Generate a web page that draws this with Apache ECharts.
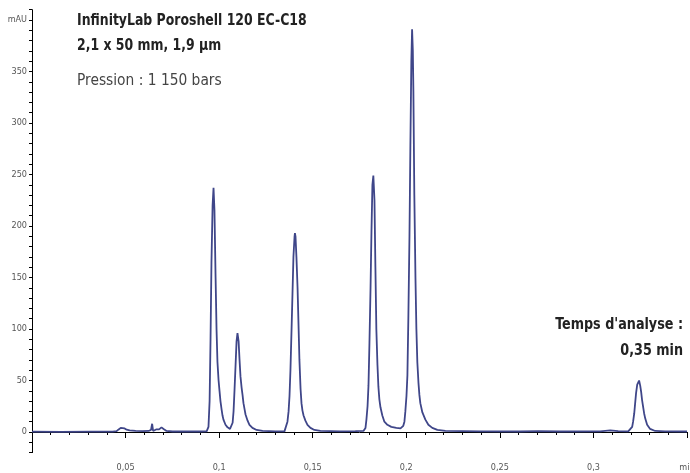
<!DOCTYPE html>
<html><head><meta charset="utf-8">
<script src="https://cdn.jsdelivr.net/npm/echarts@6/dist/echarts.min.js"></script>
<style>html,body{margin:0;padding:0;background:#fff}#c{width:690px;height:473px}</style>
</head><body><div id="c"></div>
<script>
// Retention time (min)
var times = [
 0.0000,0.0153,0.0313,0.0431,0.0452,0.0463,0.0474,0.0484,0.0495,0.0506,0.0522,0.0554,0.0591,0.0623,
 0.0636,0.0642,0.0647,0.0655,0.0663,0.0671,0.0679,0.0692,0.0703,0.0719,0.0751,0.0821,0.0901,0.0933,
 0.0938,0.0943,0.0949,0.0954,0.0959,0.0965,0.0970,0.0975,0.0981,0.0986,0.0991,0.0997,0.1002,0.1007,
 0.1013,0.1018,0.1023,0.1034,0.1045,0.1058,
 0.1066,0.1072,0.1077,0.1082,0.1088,0.1093,0.1098,0.1104,0.1109,0.1114,0.1120,0.1125,0.1130,0.1136,
 0.1141,0.1152,0.1162,0.1178,0.1200,0.1232,0.1301,
 0.1349,0.1357,0.1365,0.1371,0.1376,0.1381,0.1387,0.1392,0.1397,0.1403,0.1405,0.1408,0.1413,0.1419,
 0.1424,0.1429,0.1435,0.1440,0.1445,0.1451,0.1461,0.1472,0.1488,0.1509,0.1541,0.1648,0.1728,
 0.1771,0.1776,0.1782,0.1787,0.1793,0.1798,0.1803,0.1809,0.1814,0.1819,0.1824,0.1830,0.1835,0.1840,
 0.1846,0.1851,0.1856,0.1862,0.1872,0.1883,0.1899,0.1920,0.1947,0.1969,
 0.1979,0.1984,0.1990,0.1995,0.2001,0.2006,0.2011,0.2017,0.2022,0.2027,0.2031,0.2035,0.2038,0.2043,
 0.2049,0.2054,0.2059,0.2065,0.2070,0.2075,0.2086,0.2102,0.2118,0.2139,0.2166,0.2209,
 0.2396,0.2609,0.2705,0.2823,0.3036,0.3090,0.3132,
 0.3186,0.3196,0.3207,0.3212,0.3218,0.3223,0.3228,0.3234,0.3239,0.3244,0.3250,0.3255,0.3260,0.3266,
 0.3271,0.3277,0.3287,0.3303,0.3330,0.3383,0.3500
];
// Absorbance (mAU) at each retention time
var absorbance = [
 0.3,0.2,0.3,0.3,0.8,2.5,4,4.5,3.5,2.2,1.5,1,0.8,1,
 2,8,1,0.5,2.5,4,2.5,4.5,3,1,0.5,0.5,0.5,0.6,
 1,5,30,90,165,220,237,215,150,100,68,50,40,30,
 22,16,12,7,4.5,3,
 4,9,20,40,66,88,96,88,70,54,43,36,28,22,
 17,11,7,4,2,1,0.6,
 0.6,2,10,20,35,60,100,135,170,190,193,190,170,140,
 105,70,42,28,21,16,11,7,4,2,1,0.7,0.8,
 1,2,4,12,25,45,85,140,195,240,249,225,160,100,
 65,44,32,24,16,10,7,5,4,3.5,
 4,6,10,20,35,55,110,190,280,360,391,370,330,230,
 150,100,68,48,36,28,19,12,7,4,2,1,
 0.6,0.5,0.8,0.5,0.7,1.5,0.8,
 0.6,1.5,5,10,18,28,38,46,48,50,45,39,31,24,
 18,13,7,3,1,0.6,0.5
];
var yTickLabels = {400:'mAU'};
var xLastLabel = 'min';

var data = times.map(function(t,i){return [t, absorbance[i]];});
var FN = '"Liberation Sans Narrow","DejaVu Sans Condensed",sans-serif';
var chart = echarts.init(document.getElementById('c'), null, {renderer:'canvas'});
chart.setOption({
  animation:false,
  grid:{left:32, right:3, top:9.7, bottom:20.4, containLabel:false, outerBoundsMode:'none'},
  xAxis:{type:'value', min:0, max:0.35, interval:0.05,
    axisLine:{show:true, lineStyle:{color:'#000', width:1}},
    axisTick:{show:true, length:6, lineStyle:{color:'#000'}},
    minorTick:{show:true, splitNumber:5, length:3, lineStyle:{color:'#000'}},
    splitLine:{show:false},
    axisLabel:{margin:11, fontSize:9, fontFamily:FN, color:'#555', showMinLabel:true, showMaxLabel:true,
      formatter:function(v){
        var k=Math.round(v*100);
        if(k===0) return '';
        if(k===35) return xLastLabel;
        return String(Math.round(v*100)/100).replace('.',',');
      }}
  },
  yAxis:{type:'value', min:-20, max:410, interval:10,
    axisLine:{show:true, lineStyle:{color:'#000', width:1}},
    axisTick:{show:true, length:3, lineStyle:{color:'#000'}},
    splitLine:{show:false},
    axisLabel:{margin:5, fontSize:9, fontFamily:FN, color:'#555', showMinLabel:true, showMaxLabel:true,
      formatter:function(v){
        var k=Math.round(v);
        if(yTickLabels[k]) return yTickLabels[k];
        if(k>=0 && k%50===0) return String(k);
        return '';
      }}
  },
  series:[{type:'line', data:data, showSymbol:false, smooth:false,
    lineStyle:{color:'#3f4689', width:1.8}, z:3}],
  graphic:[
    {type:'text', x:77, y:20.5, scaleX:0.84, style:{text:'InfinityLab Poroshell 120 EC-C18', font:'bold 16.5px '+FN, fill:'#222', textAlign:'left', textVerticalAlign:'middle'}},
    {type:'text', x:77, y:46, scaleX:0.84, style:{text:'2,1 x 50 mm, 1,9 µm', font:'bold 16.5px '+FN, fill:'#222', textAlign:'left', textVerticalAlign:'middle'}},
    {type:'text', x:77, y:80.5, scaleX:0.93, style:{text:'Pression : 1 150 bars', font:'16.5px '+FN, fill:'#444', textAlign:'left', textVerticalAlign:'middle'}},
    {type:'text', x:683, y:324.5, scaleX:0.86, style:{text:'Temps d\'analyse :', font:'bold 16.5px '+FN, fill:'#222', textAlign:'right', textVerticalAlign:'middle'}},
    {type:'text', x:683, y:351, scaleX:0.86, style:{text:'0,35 min', font:'bold 16.5px '+FN, fill:'#222', textAlign:'right', textVerticalAlign:'middle'}}
  ]
});
</script></body></html>
